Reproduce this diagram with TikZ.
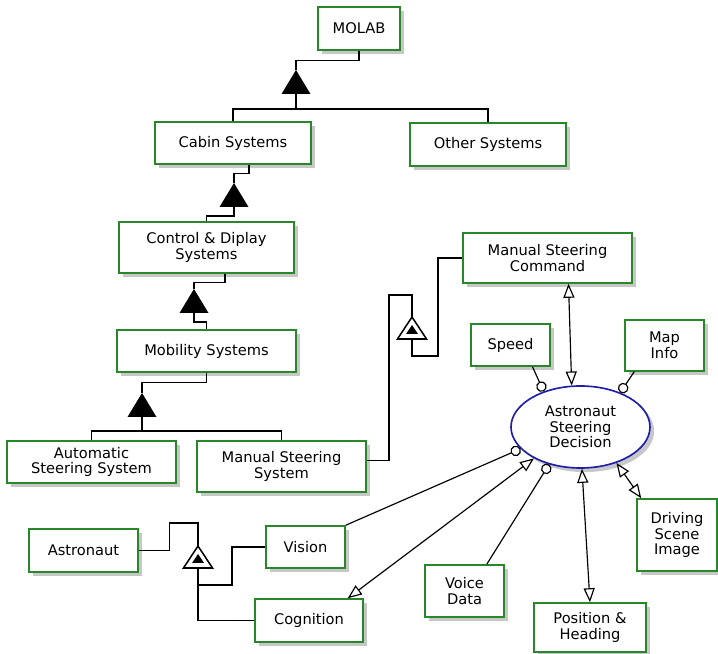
\documentclass[tikz,border=0pt]{standalone}
\usepackage{fontspec}
\setmainfont{DejaVu Sans}
\usetikzlibrary{shapes.geometric,shadows,arrows.meta,calc}
\definecolor{objgreen}{RGB}{40,135,40}
\definecolor{procblue}{RGB}{30,30,170}
\tikzset{
  sz/.style 2 args={minimum width=#1*0.03cm, minimum height=#2*0.03cm},
  shad/.style={general shadow={shadow xshift=3.5pt, shadow yshift=-3.5pt, fill=black!22}},
  obj/.style={draw=objgreen, line width=1.3pt, fill=white, align=center, inner sep=0pt, shad},
  proc/.style={ellipse, draw=procblue, line width=1.4pt, fill=white, align=center, inner sep=0pt, shad},
  link/.style={line width=1pt},
  both/.style={link, {Triangle[open,length=12pt,width=9.5pt]}-{Triangle[open,length=12pt,width=9.5pt]}},
  instr/.style={link, -{Circle[open,length=9pt]}}
}
\begin{document}
\begin{tikzpicture}[x=0.03cm, y=-0.03cm, font=\fontsize{12.5}{13.4}\selectfont]
\useasboundingbox (0,0) rectangle (718,654);
\node[obj,sz={82}{43}] (molab) at (359,28.5) {MOLAB};
\node[obj,sz={156}{42}] (cabin) at (233,143) {Cabin Systems};
\node[obj,sz={156}{43}] (other) at (488,144.5) {Other Systems};
\node[obj,sz={175}{51}] (control) at (206.5,247.5) {Control \& Diplay\\Systems};
\node[obj,sz={179}{42}] (mobility) at (206.5,351) {Mobility Systems};
\node[obj,sz={169}{42}] (auto) at (91.5,462) {Automatic\\Steering System};
\node[obj,sz={169}{51}] (mss) at (281.5,466.5) {Manual Steering\\System};
\node[obj,sz={109}{43}] (astro) at (83.5,550.5) {Astronaut};
\node[obj,sz={79}{42}] (vision) at (305.5,547) {Vision};
\node[obj,sz={108}{43}] (cog) at (309,620.5) {Cognition};
\node[obj,sz={169}{50}] (msc) at (547.5,258) {Manual Steering\\Command};
\node[obj,sz={79}{42}] (speed) at (510.5,345) {Speed};
\node[obj,sz={79}{51}] (map) at (664.5,345.5) {Map\\Info};
\node[obj,sz={80}{72}] (dsi) at (677,535) {Driving\\Scene\\Image};
\node[obj,sz={79}{52}] (voice) at (464.5,591) {Voice\\Data};
\node[obj,sz={112}{49}] (pos) at (590,627.5) {Position \&\\Heading};
\node[proc,sz={139}{82}] (asd) at (580.5,427) {Astronaut\\Steering\\Decision};
\coordinate (a1) at (296,70);
\coordinate (a1b) at (296,94);
\coordinate (a2) at (234,183);
\coordinate (a2b) at (234,207);
\coordinate (a3) at (194,289);
\coordinate (a3b) at (194,313);
\coordinate (a4) at (142,393);
\coordinate (a4b) at (142,417);
\coordinate (e1) at (198,546);
\coordinate (e1b) at (198,568);
\coordinate (e2) at (412,317);
\coordinate (e2b) at (412,339);
\draw[link] (molab.south) -- ++(0,10) -| (a1);
\fill (a1) -- ++(-14.5,24) -- ++(29,0) -- cycle;
\draw[link] (a1b) -- ++(0,15);
\draw[link] (cabin.north) |- ($(a1b)+(0,15)$) -| (other.north);
\draw[link] ($(cabin.south)+(16,0)$) -- ++(0,9) -| (a2);
\fill (a2) -- ++(-14.5,24) -- ++(29,0) -- cycle;
\draw[link] (a2b) -- ++(0,9) -| (control.north);
\draw[link] ($(control.south)+(18.5,0)$) -- ++(0,9) -| (a3);
\fill (a3) -- ++(-14.5,24) -- ++(29,0) -- cycle;
\draw[link] (a3b) -- ++(0,9) -| (mobility.north);
\draw[link] (mobility.south) -- ++(0,10) -| (a4);
\fill (a4) -- ++(-14.5,24) -- ++(29,0) -- cycle;
\draw[link] (a4b) -- ++(0,14);
\draw[link] (auto.north) |- ($(a4b)+(0,14)$) -| (mss.north);
\draw[link] (astro.east) -- ++(31,0) |- ($(e1)+(0,-23)$) -- (e1);
\draw[link, line width=1.3pt, fill=white] (e1) -- ++(-14.5,22) -- ++(29,0) -- cycle;
\fill ($(e1)+(0,8)$) -- ++(-6,9) -- ++(12,0) -- cycle;
\draw[link] (e1b) |- ($(e1b)+(34,17)$) |- (vision.west);
\draw[link] (e1b) |- (cog.west);
\draw[link] ($(mss.east)+(0,-6)$) -| ($(e2)+(-23,-22)$) -| (e2);
\draw[link, line width=1.3pt, fill=white] (e2) -- ++(-14.5,22) -- ++(29,0) -- cycle;
\fill ($(e2)+(0,8)$) -- ++(-6,9) -- ++(12,0) -- cycle;
\draw[link] (e2b) |- ($(e2b)+(26,17)$) |- (msc.west);
\draw[both] ($(msc.south)+(21,0)$) -- (asd.102);
\draw[instr] ($(speed.south)+(22,0)$) -- (asd.136);
\draw[instr] ($(map.south west)+(10,0)$) -- (asd.41);
\draw[instr] (vision.north east) -- (asd.200);
\draw[both] ($(cog.north east)+(-16,0)$) -- (asd.214);
\draw[instr] ($(voice.north east)+(-18,0)$) -- (asd.230);
\draw[both] (asd.272) -- (pos.north);
\draw[both] (asd.315) -- ($(dsi.north west)+(5,0)$);
\end{tikzpicture}
\end{document}
